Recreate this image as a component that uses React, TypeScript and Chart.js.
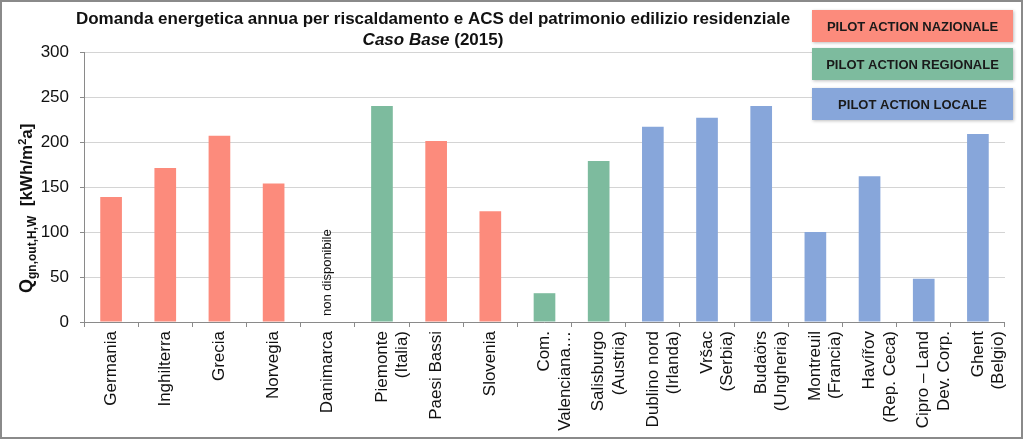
import React, { useEffect, useRef } from 'react';
import { Chart, registerables } from 'chart.js';

Chart.register(...registerables);

const categories: (string | string[])[] = [
  'Germania',
  'Inghilterra',
  'Grecia',
  'Norvegia',
  'Danimarca',
  ['Piemonte', '(Italia)'],
  'Paesi Bassi',
  'Slovenia',
  ['Com.', 'Valenciana…'],
  ['Salisburgo', '(Austria)'],
  ['Dublino nord', '(Irlanda)'],
  ['Vršac', '(Serbia)'],
  ['Budaörs', '(Ungheria)'],
  ['Montreuil', '(Francia)'],
  ['Havířov', '(Rep. Ceca)'],
  ['Cipro – Land', 'Dev. Corp.'],
  ['Ghent', '(Belgio)'],
];

const values: (number | null)[] = [139, 171, 207, 154, null, 240, 201, 123, 32, 179, 217, 227, 240, 100, 162, 48, 209];

// N = nazionale, R = regionale, L = locale
const groups: string[] = ['N', 'N', 'N', 'N', 'N', 'R', 'N', 'N', 'R', 'R', 'L', 'L', 'L', 'L', 'L', 'L', 'L'];

const groupKeys = ['N', 'R', 'L'];
const legendLabels = ['PILOT ACTION NAZIONALE', 'PILOT ACTION REGIONALE', 'PILOT ACTION LOCALE'];
const groupColors: Record<string, string> = { N: '#FC8B7C', R: '#7DBB9E', L: '#87A6DA' };

const titleLine1 = 'Domanda energetica annua per riscaldamento e ACS del patrimonio edilizio residenziale';
const titleLine2Italic = 'Caso Base';
const titleLine2Rest = ' (2015)';

const notAvailableIndex = 4;
const notAvailableText = 'non disponibile';

const yMin = 0;
const yMax = 300;
const yStep = 50;

const FONT = 'Arial, "Liberation Sans", Helvetica, sans-serif';

const overlayPlugin = {
  id: 'overlay',
  afterDraw(chart: any) {
    const ctx = chart.ctx as CanvasRenderingContext2D;
    const xs = chart.scales.x;
    const ys = chart.scales.y;

    // Title
    ctx.save();
    ctx.fillStyle = '#111';
    ctx.textBaseline = 'middle';
    ctx.textAlign = 'center';
    ctx.font = `bold 17px ${FONT}`;
    const cx = 433;
    ctx.fillText(titleLine1, cx, 19);
    ctx.font = `italic bold 17px ${FONT}`;
    const w1 = ctx.measureText(titleLine2Italic).width;
    ctx.font = `bold 17px ${FONT}`;
    const w2 = ctx.measureText(titleLine2Rest).width;
    const start = cx - (w1 + w2) / 2;
    ctx.textAlign = 'left';
    ctx.font = `italic bold 17px ${FONT}`;
    ctx.fillText(titleLine2Italic, start, 40);
    ctx.font = `bold 17px ${FONT}`;
    ctx.fillText(titleLine2Rest, start + w1, 40);
    ctx.restore();

    // Legend boxes
    const boxX = 812;
    const boxW = 201;
    const boxH = 32;
    const boxTops = [10, 48, 88];
    groupKeys.forEach((g, i) => {
      ctx.save();
      ctx.shadowColor = 'rgba(0,0,0,0.25)';
      ctx.shadowBlur = 3;
      ctx.shadowOffsetX = 1;
      ctx.shadowOffsetY = 1;
      ctx.fillStyle = groupColors[g];
      ctx.fillRect(boxX, boxTops[i], boxW, boxH);
      ctx.restore();
      ctx.save();
      ctx.fillStyle = '#1a1a1a';
      ctx.font = `bold 13px ${FONT}`;
      ctx.textAlign = 'center';
      ctx.textBaseline = 'middle';
      ctx.fillText(legendLabels[i], boxX + boxW / 2, boxTops[i] + boxH / 2 + 1);
      ctx.restore();
    });

    // "non disponibile"
    ctx.save();
    const nx = xs.getPixelForValue(notAvailableIndex);
    const ny = ys.getPixelForValue(0) - 6;
    ctx.translate(nx, ny);
    ctx.rotate(-Math.PI / 2);
    ctx.font = `13px ${FONT}`;
    ctx.fillStyle = '#111';
    ctx.textAlign = 'left';
    ctx.textBaseline = 'middle';
    ctx.fillText(notAvailableText, 0, 0);
    ctx.restore();

    // Y axis title: Q_gn,out,H,W  [kWh/m²a]
    ctx.save();
    ctx.translate(32, 293);
    ctx.rotate(-Math.PI / 2);
    ctx.fillStyle = '#111';
    ctx.textAlign = 'left';
    ctx.textBaseline = 'alphabetic';
    let x = 0;
    ctx.font = `bold 18px ${FONT}`;
    ctx.fillText('Q', x, 0);
    x += ctx.measureText('Q').width;
    ctx.font = `bold 12px ${FONT}`;
    ctx.fillText('gn,out,H,W', x, 4);
    x += ctx.measureText('gn,out,H,W').width;
    ctx.font = `bold 17px ${FONT}`;
    const p1 = '  [kWh/m';
    ctx.fillText(p1, x, 0);
    x += ctx.measureText(p1).width;
    ctx.font = `bold 11px ${FONT}`;
    ctx.fillText('2', x, -6);
    x += ctx.measureText('2').width;
    ctx.font = `bold 17px ${FONT}`;
    ctx.fillText('a]', x, 0);
    ctx.restore();

    // Outer frame
    ctx.save();
    ctx.strokeStyle = '#8a8a8a';
    ctx.lineWidth = 2;
    ctx.strokeRect(1, 1, chart.width - 2, chart.height - 2);
    ctx.restore();
  },
};

export default function App() {
  const canvasRef = useRef<HTMLCanvasElement | null>(null);

  useEffect(() => {
    if (!canvasRef.current) return;
    const chart = new Chart(canvasRef.current, {
      type: 'bar',
      data: {
        labels: categories,
        datasets: [
          {
            data: values,
            backgroundColor: groups.map((g) => groupColors[g]),
            borderWidth: 0,
            barPercentage: 0.4,
            categoryPercentage: 1,
          },
        ],
      },
      options: {
        responsive: false,
        animation: false,
        devicePixelRatio: 1,
        layout: { padding: { left: 0, right: 10, top: 52, bottom: 0 } },
        plugins: {
          legend: { display: false },
          title: { display: false },
          tooltip: { enabled: false },
        },
        scales: {
          x: {
            afterFit: (s: any) => {
              s.height = 117;
            },
            grid: {
              offset: true,
              drawOnChartArea: false,
              drawTicks: true,
              tickLength: 5,
              color: '#8a8a8a',
            },
            border: { display: true, color: '#8a8a8a', width: 1 },
            ticks: {
              autoSkip: false,
              maxRotation: 90,
              minRotation: 90,
              padding: 4,
              color: '#111',
              font: { family: FONT, size: 17, lineHeight: 1.2 },
            },
          },
          y: {
            min: yMin,
            max: yMax,
            afterFit: (s: any) => {
              s.width = 84;
            },
            grid: {
              color: '#d4d4d4',
              drawTicks: true,
              tickLength: 4,
              tickColor: '#8a8a8a',
            },
            border: { display: true, color: '#8a8a8a', width: 1 },
            ticks: {
              stepSize: yStep,
              padding: 11,
              color: '#111',
              font: { family: FONT, size: 17 },
            },
          },
        },
      },
      plugins: [overlayPlugin],
    });
    return () => chart.destroy();
  }, []);

  return (
    <div style={{ position: 'fixed', left: 0, top: 0, width: 1023, height: 439, background: '#fff' }}>
      <canvas ref={canvasRef} width={1023} height={439} style={{ width: 1023, height: 439, display: 'block' }} />
    </div>
  );
}
